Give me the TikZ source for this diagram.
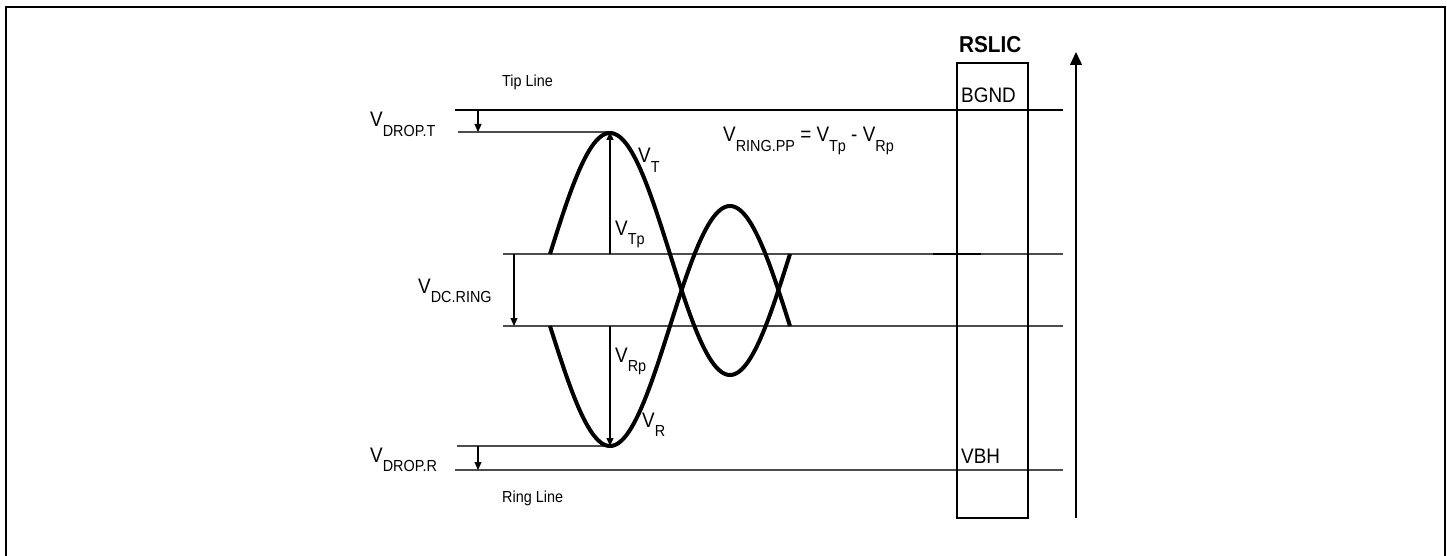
\documentclass[tikz,border=0pt]{standalone}
\usepackage{fontspec}
\setmainfont{Liberation Sans}[FakeStretch=0.9]
\usetikzlibrary{arrows.meta}
\newcommand{\vsub}[1]{V\raisebox{-9.5pt}{\fontsize{16}{16}\selectfont #1}}
\definecolor{lgray}{rgb}{0.3,0.3,0.3}
\tikzset{
  lbl/.style={anchor=base west, inner sep=0pt, font=\fontsize{21}{21}\selectfont},
  small/.style={anchor=base west, inner sep=0pt, font=\fontsize{16}{16}\selectfont},
  hline/.style={line width=1.3pt, draw=lgray},
  tipline/.style={line width=1.3pt, draw=black},
  wave/.style={line width=4pt, line join=round},
  dimarrow/.style={line width=1.1pt, -{Triangle[length=8pt,width=7pt]}},
  box/.style={line width=2pt},
  axis/.style={line width=1.3pt, -{Triangle[length=13pt,width=12pt]}},
  frame/.style={line width=2.5pt}
}
\begin{document}
\begin{tikzpicture}[x=1pt,y=-1pt]
\useasboundingbox (0,0) rectangle (1447,556);
% frame (bottom open)
\draw[frame] (6,556) -- (6,7) -- (1445,7) -- (1445,556);

% named coordinates
\coordinate (tipL) at (455,110);   \coordinate (tipR) at (1063,110);
\coordinate (dtL) at (458,132);    \coordinate (peakT) at (610,132);
\coordinate (m1L) at (503,254);    \coordinate (m1R) at (1063,254);
\coordinate (m2L) at (503,326);    \coordinate (m2R) at (1063,326);
\coordinate (drL) at (457,446);    \coordinate (troughR) at (610,446);
\coordinate (ringL) at (455,470);  \coordinate (ringR) at (1063,470);
\coordinate (c1) at (610,254);     \coordinate (c2) at (610,326);

% horizontal lines
\draw[tipline] (tipL) -- (tipR);
\draw[hline] (dtL) -- (peakT);
\draw[hline] (m1L) -- (m1R);
\draw[hline] (m2L) -- (m2R);
\draw[hline] (drL) -- (troughR);
\draw[hline] (ringL) -- (ringR);
\coordinate (segA) at (933,254); \coordinate (segB) at (981,254);
\draw[line width=1.6pt] (segA) -- (segB);

% waves
\draw[wave] plot[domain=550:790, samples=121, smooth] (\x, {254-121*sin(1.5*(\x-550))});
\draw[wave] plot[domain=550:790, samples=121, smooth] (\x, {326+120*sin(1.5*(\x-550))});

% dimension arrows
\coordinate (a1s) at (478,110); \coordinate (a1e) at (478,132);
\draw[dimarrow] (a1s) -- (a1e);
\coordinate (a2s) at (514,254); \coordinate (a2e) at (514,326);
\draw[dimarrow] (a2s) -- (a2e);
\coordinate (a3s) at (478,446); \coordinate (a3e) at (478,470);
\draw[dimarrow] (a3s) -- (a3e);
\draw[dimarrow] (c1) -- (peakT);
\draw[dimarrow] (c2) -- (troughR);

% labels
\node[small] (tip) at (502,87) {Tip Line};
\node[small] (ring) at (502,502) {Ring Line};
\node[lbl] (vdropt) at (370,127) {\vsub{DROP.T}};
\node[lbl] (vt) at (638,163) {\vsub{T}};
\node[lbl] (vtp) at (615,235) {\vsub{Tp}};
\node[lbl] (vdc) at (418,293) {\vsub{DC.RING}};
\node[lbl] (vrp) at (615,362) {\vsub{Rp}};
\node[lbl] (vr) at (642,427) {\vsub{R}};
\node[lbl] (vdropr) at (370,462) {\vsub{DROP.R}};
\node[lbl] (eq) at (723,142) {\vsub{RING.PP} = \vsub{Tp} - \vsub{Rp}};

% RSLIC box
\coordinate (bx1) at (957,63); \coordinate (bx2) at (1028,518);
\draw[box] (bx1) rectangle (bx2);
\node[anchor=base west, inner sep=0pt, font=\fontsize{23}{23}\selectfont\bfseries] (rslic) at (959,53) {RSLIC};
\node[lbl] (bgnd) at (961,103) {BGND};
\node[lbl] (vbh) at (961,463) {VBH};

% vertical axis
\coordinate (ax1) at (1076,518); \coordinate (ax2) at (1076,52);
\draw[axis] (ax1) -- (ax2);
\end{tikzpicture}
\end{document}
